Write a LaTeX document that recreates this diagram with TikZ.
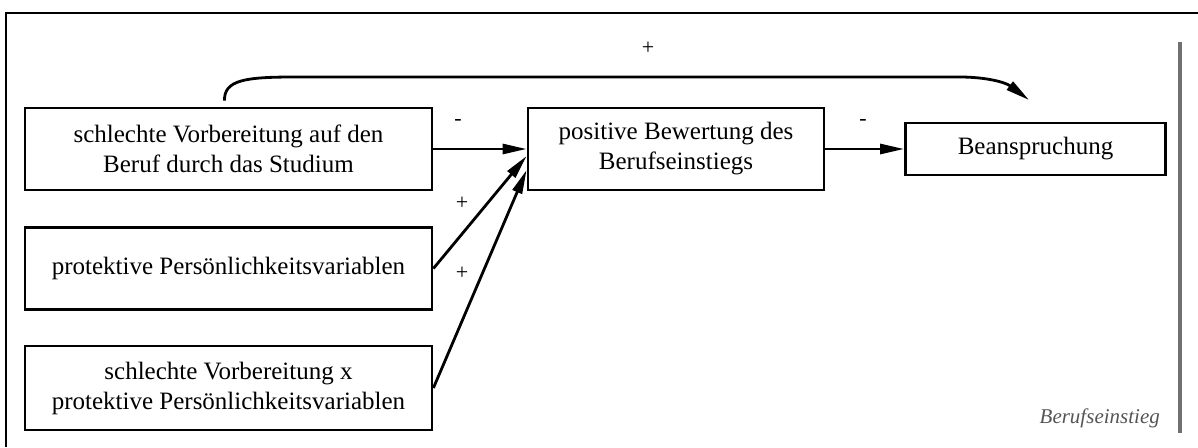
\documentclass[tikz,border=0pt]{standalone}
\usepackage{fontspec}
\setmainfont{Liberation Serif}
\usetikzlibrary{arrows.meta}
\definecolor{barGray}{HTML}{707070}
\definecolor{noteGray}{HTML}{555555}
\tikzset{
  varbox/.style={draw, line width=2.8pt, align=center, font=\fontsize{25}{30}\selectfont, inner sep=0pt},
  link/.style={line width=2.8pt, -{Triangle[length=24pt,width=10pt]}},
  sign/.style={font=\fontsize{22}{24}\selectfont, inner sep=0pt}
}
\begin{document}
\begin{tikzpicture}[x=1pt,y=-1pt]
  \useasboundingbox (0,0) rectangle (1198,447);
  % outer frame (open towards right and bottom)
  \draw[line width=2.8pt] (6,447) -- (6,13) -- (1198,13);
  % phase bar on the right
  \fill[barGray] (1178,42) rectangle (1182,433);

  % variables
  \node[varbox, minimum width=407pt, minimum height=82pt] (b1) at (228.5,149)
    {schlechte Vorbereitung auf den\\Beruf durch das Studium};
  \node[varbox, minimum width=407pt, minimum height=82pt] (b2) at (228.5,268.5)
    {protektive Persönlichkeitsvariablen};
  \node[varbox, minimum width=407pt, minimum height=84pt] (b3) at (228.5,388)
    {schlechte Vorbereitung x\\protektive Persönlichkeitsvariablen};
  \node[varbox, minimum width=296pt, minimum height=82pt] (b4) at (676,149)
    {positive Bewertung des\\Berufseinstiegs};
  \node[varbox, minimum width=260pt, minimum height=52pt] (b5) at (1035.5,149)
    {Beanspruchung};

  % paths
  \draw[link] (b1.east) -- (b4.west);
  \draw[link] (b2.east) -- ([yshift=-7pt]b4.west);
  \draw[link] (b3.east) -- ([yshift=-21pt]b4.west);
  \draw[link] (b4.east) -- (b5.west);
  \coordinate (tip) at (1029,100);
  \draw[link] ([xshift=-4pt,yshift=6pt]b1.north)
    .. controls (224,80) and (245,77) .. (295,77) -- (960,77)
    .. controls (985,77) and (1005,82) .. (tip);

  % signs
  \node[sign] (s1) at (458,122) {-};
  \node[sign] (s2) at (462,203) {+};
  \node[sign] (s3) at (462,273) {+};
  \node[sign] (s4) at (863,122) {-};
  \node[sign] (s5) at (648,48) {+};

  % phase label
  \node[anchor=base east, text=noteGray, inner sep=0pt,
        font=\fontsize{21}{24}\selectfont\itshape] (phase) at (1160,423) {Berufseinstieg};
\end{tikzpicture}
\end{document}
